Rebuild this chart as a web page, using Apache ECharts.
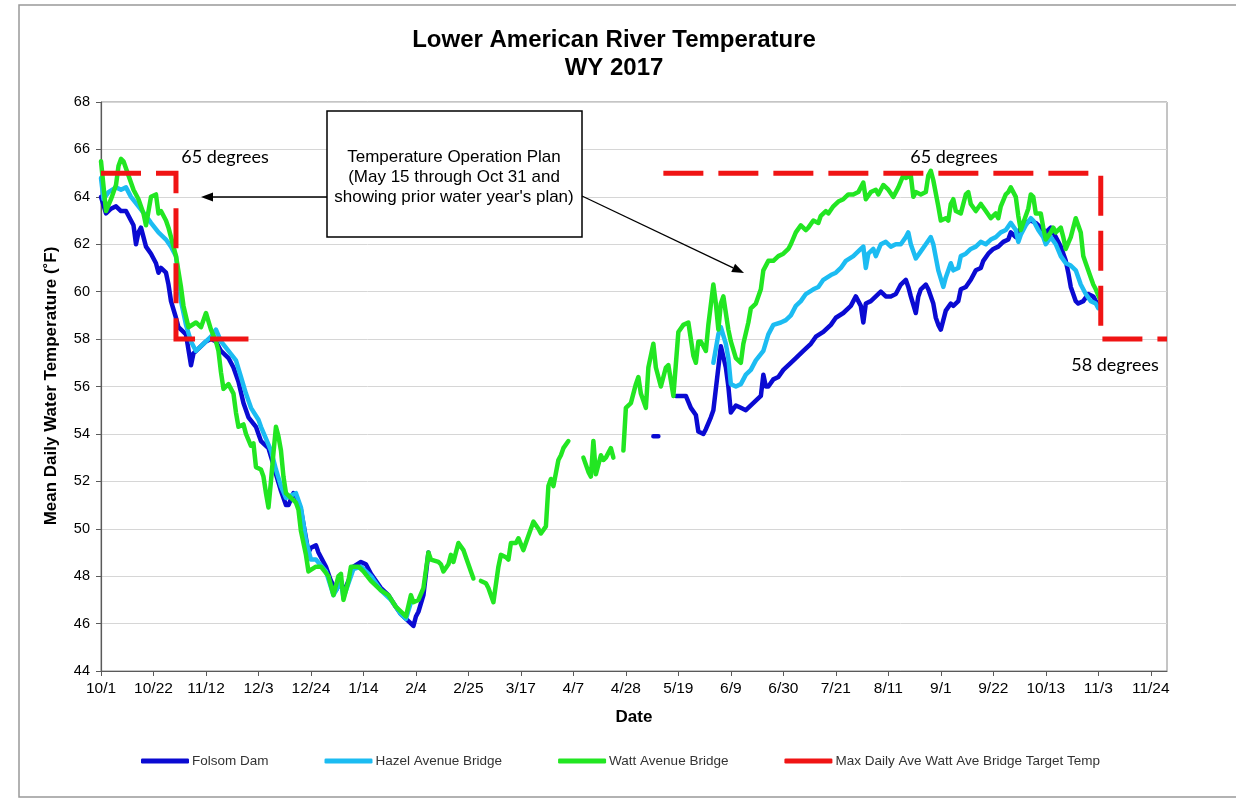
<!DOCTYPE html>
<html>
<head>
<meta charset="utf-8">
<script src="https://cdn.jsdelivr.net/npm/echarts@6/dist/echarts.min.js"></script>
<style>
  html, body { margin: 0; padding: 0; background: #ffffff; }
  #chart { width: 1236px; height: 799px; }
</style>
</head>
<body>
<div id="chart"></div>
<script>
// Axis tick labels, one every 21 days starting 10/1
const tickLabels = ['10/1', '10/22', '11/12', '12/3', '12/24', '1/14', '2/4', '2/25', '3/17', '4/7',
  '4/28', '5/19', '6/9', '6/30', '7/21', '8/11', '9/1', '9/22', '10/13', '11/3', '11/24'];
const tickDays = tickLabels.map((_, i) => i * 21);

// Mean daily water temperature (°F); x = days since 10/1, '-' marks missing records
const folsomDam = [
  [0,64.0],[2,63.3],[4,63.5],[6,63.6],[8,63.4],[10,63.4],[12,63.0],[13,62.8],[14,62.0],[15,62.5],[16,62.7],
  [18,61.9],[20,61.6],[22,61.2],[23,60.8],[24,61.0],[26,60.8],[27,60.3],[28,59.6],[30,58.9],[31,58.5],
  [34,58.2],[36,56.9],[37,57.4],[39,57.6],[42,57.9],[44,58.0],[46,57.9],[48,57.5],[51,57.2],[53,56.8],
  [55,56.2],[57,55.3],[59,54.7],[62,54.3],[63,54.0],[64,53.7],[67,53.4],[69,52.7],[70,52.3],[72,51.6],
  [74,51.0],[75,51.0],[77,51.5],[78,51.4],[80,50.8],[82,49.6],[83,49.0],[84,49.2],[86,49.3],[87,49.0],
  [90,48.4],[92,47.8],[94,47.4],[96,47.8],[97,47.3],[99,47.8],[101,48.4],[104,48.6],[106,48.5],[108,48.1],
  [112,47.5],[115,47.2],[118,46.7],[120,46.4],[123,46.1],[125,45.9],[126,46.3],[127,46.5],[129,47.2],[131,49.0],
  [132,'-'],
  [221,53.9],[223,53.9],
  [224,'-'],
  [230,55.6],[234,55.6],[236,55.1],[238,54.8],[239,54.1],[241,54.0],[242,54.2],[244,54.7],[245,55.0],
  [247,56.8],[248,57.7],[250,56.8],[251,56.0],[252,54.9],[254,55.2],[256,55.1],[258,55.0],[260,55.2],
  [262,55.4],[264,55.6],[265,56.5],[266,56.0],[267,56.0],[269,56.3],[271,56.4],[273,56.7],[276,57.0],
  [278,57.2],[281,57.5],[284,57.8],[286,58.1],[289,58.3],[292,58.6],[294,58.9],[297,59.1],[300,59.4],
  [302,59.8],[304,59.4],[305,58.7],[306,59.5],[308,59.6],[310,59.8],[312,60.0],[314,59.8],[316,59.8],
  [318,59.9],[320,60.3],[322,60.5],[323,60.2],[324,59.8],[326,59.1],[327,59.8],[328,60.1],[330,60.3],
  [331,60.1],[333,59.5],[334,58.9],[335,58.6],[336,58.4],[338,59.2],[340,59.5],[341,59.4],[343,59.6],
  [344,60.1],[346,60.2],[348,60.5],[350,60.9],[352,61.0],[353,61.3],[355,61.6],[357,61.8],[359,61.9],
  [361,62.1],[363,62.2],[364,62.5],[366,62.3],[367,62.5],[368,62.7],[370,62.9],[372,63.0],[374,62.9],
  [376,62.7],[378,62.5],[380,62.7],[382,62.3],[384,61.9],[386,61.3],[387,60.8],[388,60.2],[390,59.6],
  [391,59.5],[393,59.6],[395,59.9],[397,59.8],[399,59.4]
];

const hazelAvenueBridge = [
  [0,64.8],[1,63.9],[3,64.2],[6,64.4],[8,64.3],[10,64.4],[12,64.0],[15,63.6],[18,63.2],[20,62.9],[23,62.5],
  [26,62.2],[28,61.9],[30,61.5],[31,60.6],[32,59.6],[34,58.6],[36,57.9],[38,57.5],[40,57.7],[42,57.9],
  [44,58.1],[46,58.4],[48,57.9],[51,57.5],[54,57.1],[56,56.4],[58,55.7],[60,55.1],[63,54.6],[64,54.3],
  [66,53.8],[68,53.3],[70,52.5],[72,51.8],[74,51.3],[76,51.4],[78,51.5],[80,50.9],[82,49.5],[84,48.7],
  [86,48.7],[90,48.2],[93,47.2],[96,47.8],[97,47.1],[101,48.3],[104,48.4],[108,48.0],[112,47.4],[116,47.0],
  [118,46.7],[120,46.4],[122,46.2],[124,46.9],
  [125,'-'],
  [245,57.0],[247,58.2],[248,58.5],[250,57.8],[251,57.2],[252,56.1],[254,56.0],[256,56.1],[258,56.5],
  [260,56.7],[262,57.1],[265,57.5],[267,58.2],[269,58.6],[272,58.7],[274,58.8],[276,59.0],[278,59.4],
  [280,59.6],[282,59.9],[285,60.1],[287,60.2],[289,60.5],[292,60.7],[294,60.8],[296,61.0],[298,61.3],
  [301,61.5],[304,61.8],[305,61.9],[306,61.0],[307,61.6],[309,61.8],[310,61.5],[312,62.0],[314,62.1],
  [316,61.9],[318,62.0],[320,62.0],[322,62.3],[323,62.5],[324,62.0],[326,61.4],[328,61.7],[330,62.0],
  [332,62.3],[333,62.0],[335,60.9],[337,60.2],[338,60.6],[340,61.2],[341,60.9],[343,61.0],[344,61.5],
  [346,61.6],[348,61.8],[350,61.9],[352,62.1],[354,62.0],[356,62.2],[358,62.3],[360,62.5],[362,62.6],
  [364,62.9],[366,62.6],[367,62.1],[368,62.4],[370,62.8],[372,63.1],[373,63.0],[375,62.6],[377,62.3],
  [378,62.0],[380,62.3],[382,62.0],[384,61.5],[386,61.2],[388,61.1],[390,60.9],[392,60.3],[394,59.9],
  [396,59.6],[398,59.5],[399,59.3]
];

const wattAvenueBridge = [
  [0,65.5],[2,63.4],[4,63.9],[6,64.5],[7,65.3],[8,65.6],[9,65.5],[11,64.9],[13,64.3],[15,63.9],[17,63.3],
  [18,62.8],[20,64.0],[22,64.1],[23,63.3],[24,63.4],[26,63.0],[27,62.7],[29,61.9],[30,61.5],[32,60.2],
  [33,59.4],[35,58.5],[38,58.7],[40,58.5],[42,59.1],[44,58.4],[46,57.9],[47,57.5],[48,56.6],[49,55.9],
  [51,56.1],[53,55.7],[54,54.9],[55,54.3],[57,54.4],[58,54.0],[60,53.5],[61,53.6],[62,52.6],[64,52.5],
  [65,52.2],[66,51.5],[67,50.9],[68,52.0],[69,53.2],[70,54.3],[71,53.9],[72,53.3],[73,52.2],[74,51.5],
  [76,51.3],[78,51.1],[79,50.8],[80,49.9],[82,48.9],[83,48.2],[86,48.4],[88,48.4],[91,48.0],[93,47.2],
  [95,48.0],[96,48.1],[97,47.0],[99,47.8],[100,48.4],[103,48.4],[105,48.2],[108,47.8],[112,47.4],
  [115,47.2],[118,46.7],[120,46.5],[122,46.3],[124,47.2],[125,46.9],[127,47.0],[129,47.5],[131,49.0],
  [132,48.7],[135,48.6],[136,48.5],[137,48.2],[139,48.5],[140,48.9],[141,48.6],[143,49.4],[145,49.1],
  [146,48.8],[148,48.2],[149,47.9],
  [150,'-'],
  [152,47.8],[154,47.7],[155,47.5],[157,46.9],[159,48.4],[160,48.9],[162,48.8],[163,48.7],[164,49.4],
  [166,49.4],[167,49.6],[169,49.1],[171,49.7],[172,50.0],[173,50.3],[175,50.0],[176,49.8],[178,50.1],
  [179,51.8],[180,52.1],[181,51.8],[183,52.9],[184,53.1],[185,53.4],[187,53.7],
  [189,'-'],
  [193,53.0],[195,52.4],[196,52.2],[197,53.7],[198,52.3],[200,53.1],[201,52.9],[202,53.0],[204,53.4],[205,53.0],
  [207,'-'],
  [209,53.3],[210,55.1],[212,55.3],[214,56.1],[215,56.4],[216,55.7],[218,55.1],[219,56.8],[221,57.8],
  [222,56.8],[224,56.0],[226,56.8],[227,56.9],[229,55.6],[231,58.3],[233,58.6],[235,58.7],[237,57.3],
  [238,57.0],[239,57.9],[240,57.9],[242,57.5],[243,58.6],[245,60.3],[246,59.5],[247,58.4],[248,59.5],
  [249,59.8],[251,58.4],[252,57.9],[254,57.2],[256,57.0],[257,57.8],[259,58.7],[260,59.3],[262,59.5],
  [264,60.1],[265,60.9],[267,61.3],[269,61.3],[271,61.5],[273,61.6],[275,61.8],[276,62.0],[278,62.5],
  [280,62.8],[282,62.6],[283,62.7],[285,63.0],[287,62.9],[288,63.2],[290,63.4],[291,63.3],[293,63.6],
  [295,63.8],[297,63.9],[299,64.1],[301,64.1],[303,64.2],[305,64.6],[306,63.9],[308,64.2],[310,64.3],
  [311,64.1],[313,64.5],[315,64.3],[317,64.0],[319,64.4],[321,64.9],[322,64.8],[324,64.9],[325,64.0],
  [326,64.2],[328,64.1],[330,64.2],[331,64.9],[332,65.1],[333,64.7],[335,63.6],[336,63.0],[338,63.1],
  [339,63.0],[340,63.7],[341,63.9],[342,63.4],[344,63.3],[346,64.1],[347,64.2],[348,63.7],[350,63.4],
  [352,63.7],[354,63.4],[356,63.1],[358,63.3],[359,63.1],[360,63.6],[362,64.1],[363,64.2],[364,64.4],
  [366,64.0],[367,63.2],[368,62.6],[370,63.2],[371,63.5],[372,64.1],[373,64.0],[374,63.3],[376,63.3],
  [377,62.7],[378,62.2],[380,62.5],[381,62.7],[382,62.5],[384,62.7],[385,62.3],[386,61.8],[388,62.3],
  [389,62.7],[390,63.1],[392,62.5],[393,61.5],[394,61.2],[396,60.6],[397,60.3],[398,60.1],[400,59.6]
];

// Temperature Operation Plan target at Watt Ave Bridge (prior and current water year)
const targetTemp = [
  [0,65],[30,65],[30,58],[59,58],
  [60,'-'],
  [225,65],[400,65],[400,58],[426.5,58]
];

const seriesNames = ['Folsom Dam', 'Hazel Avenue Bridge', 'Watt Avenue Bridge',
  'Max Daily Ave Watt Ave Bridge Target Temp'];

const ARIAL = "'Liberation Sans', Arial, sans-serif";
const CALIBRI = "Lato, 'Open Sans', sans-serif";

// Straight arrow with a filled head at (x2, y2)
function arrow(x1, y1, x2, y2) {
  const dx = x2 - x1, dy = y2 - y1, len = Math.hypot(dx, dy);
  const ux = dx / len, uy = dy / len, hl = 12, hw = 4.5;
  const bx = x2 - ux * hl, by = y2 - uy * hl;
  return [
    { type: 'line', z: 110, shape: { x1: x1, y1: y1, x2: bx, y2: by },
      style: { stroke: '#000', lineWidth: 1.3 } },
    { type: 'polygon', z: 110,
      shape: { points: [[x2, y2], [bx - uy * hw, by + ux * hw], [bx + uy * hw, by - ux * hw]] },
      style: { fill: '#000' } }
  ];
}

function text(x, y, str, font, opts) {
  return Object.assign({
    type: 'text', z: 110, x: x, y: y,
    style: { text: str, font: font, fill: '#000', align: 'center', verticalAlign: 'middle' }
  }, opts || {});
}

const lineSeries = (name, data, color, extra) => Object.assign({
  name: name, type: 'line', data: data, showSymbol: false, symbol: 'none',
  connectNulls: false, smooth: false, clip: true,
  lineStyle: { color: color, width: 4.5, cap: 'round', join: 'round' },
  itemStyle: { color: color }
}, extra || {});

const chart = echarts.init(document.getElementById('chart'), null, { renderer: 'canvas' });

chart.setOption({
  animation: false,
  backgroundColor: '#ffffff',
  grid: { left: 101, right: 69, top: 102, bottom: 128, show: true,
          borderColor: '#8a8a8a', borderWidth: 1, backgroundColor: 'transparent' },
  xAxis: {
    type: 'value', min: 0, max: 426.5, interval: 21,
    axisLine: { show: true, onZero: false, lineStyle: { color: '#5a5a5a', width: 1.2 } },
    axisTick: { show: true, inside: false, length: 5, customValues: tickDays,
                lineStyle: { color: '#5a5a5a' } },
    axisLabel: { customValues: tickDays, margin: 10, color: '#000', fontSize: 15.5, fontFamily: ARIAL,
                 formatter: v => tickLabels[Math.round(v / 21)] || '' },
    splitLine: { show: false }
  },
  yAxis: {
    type: 'value', min: 44, max: 68, interval: 2,
    axisLine: { show: true, lineStyle: { color: '#5a5a5a', width: 1.2 } },
    axisTick: { show: true, inside: false, length: 5, lineStyle: { color: '#5a5a5a' } },
    axisLabel: { margin: 11, color: '#000', fontSize: 14.5, fontFamily: ARIAL },
    splitLine: { show: true, lineStyle: { color: '#d6d6d6', width: 1 } }
  },
  legend: {
    data: seriesNames, left: 136, top: 749, itemWidth: 48, itemHeight: 5, itemGap: 56,
    icon: 'roundRect', selectedMode: false,
    textStyle: { fontFamily: ARIAL, fontSize: 13.5, color: '#333', padding: [0, 0, 0, -2] }
  },
  series: [
    lineSeries(seriesNames[0], folsomDam, '#0a0ad2'),
    lineSeries(seriesNames[1], hazelAvenueBridge, '#1cbcf2'),
    lineSeries(seriesNames[2], wattAvenueBridge, '#22e622'),
    lineSeries(seriesNames[3], targetTemp, '#f01414', {
      lineStyle: { color: '#f01414', width: 5, type: [40, 15], cap: 'butt', join: 'miter' }
    })
  ],
  graphic: [
    // chart frame
    { type: 'rect', z: 90, shape: { x: 19, y: 5, width: 1240, height: 792 },
      style: { fill: 'none', stroke: '#999999', lineWidth: 1.5 } },
    text(614, 40, 'Lower American River Temperature', 'bold 24px ' + ARIAL),
    text(614, 68, 'WY 2017', 'bold 24px ' + ARIAL),
    text(634, 717, 'Date', 'bold 17px ' + ARIAL),
    text(51, 386, 'Mean Daily Water Temperature (˚F)', 'bold 17px ' + ARIAL, { rotation: Math.PI / 2 }),
    text(225, 157, '65 degrees', '18px ' + CALIBRI),
    text(954, 157, '65 degrees', '18px ' + CALIBRI),
    text(1115, 365, '58 degrees', '18px ' + CALIBRI),
    { type: 'rect', z: 105, shape: { x: 327, y: 111, width: 255, height: 126 },
      style: { fill: '#fff', stroke: '#000', lineWidth: 1.5 } },
    text(454, 157, 'Temperature Operation Plan', '17px ' + ARIAL),
    text(454, 177, '(May 15 through Oct 31 and', '17px ' + ARIAL),
    text(454, 197, "showing prior water year's plan)", '17px ' + ARIAL),
    ...arrow(327, 197, 201, 197),
    ...arrow(582, 196, 744, 273)
  ]
});
</script>
</body>
</html>
